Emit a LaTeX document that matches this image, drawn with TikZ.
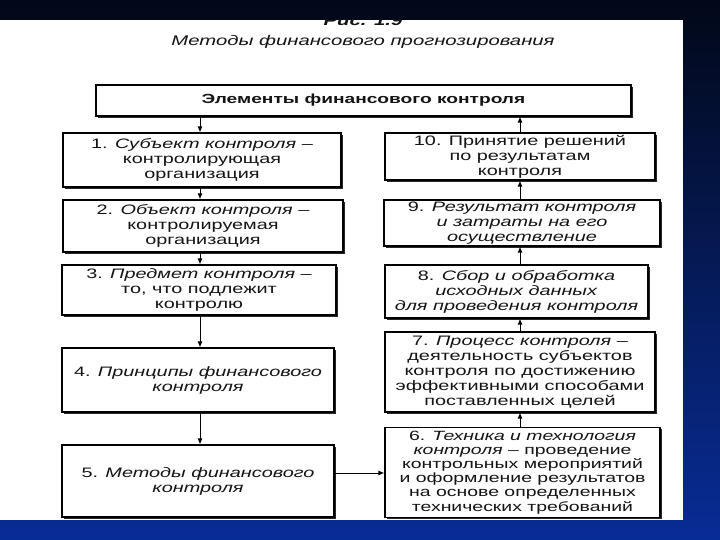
\documentclass[tikz,border=0pt]{standalone}
\usepackage{fontspec}
\setmainfont{Liberation Sans}[FakeStretch=1.45]
\usetikzlibrary{arrows.meta,shadows}
\definecolor{navytop}{RGB}{2,8,24}
\definecolor{navybot}{RGB}{8,44,150}
\definecolor{ink}{RGB}{20,20,20}
\tikzset{
  box/.style={draw=black, line width=1.1pt, fill=white, align=center, inner sep=1pt,
    text=ink, font=\fontsize{13.7}{15}\selectfont,
    drop shadow={shadow xshift=1.6pt, shadow yshift=-1.6pt, fill=black!85, opacity=1}},
  arr/.style={draw=black, line width=1pt, -{Latex[length=6pt,width=5pt]}}
}
\begin{document}
\begin{tikzpicture}[x=1pt,y=-1pt]
\useasboundingbox (0,0) rectangle (720,540);
\shade[top color=navytop, bottom color=navybot] (0,0) rectangle (720,540);
\fill[white] (0,20) rectangle (683,520);
\begin{scope}
\clip (0,20) rectangle (683,520);
\node[text=ink, font=\fontsize{14}{15}\selectfont\bfseries\itshape] (fig) at (363,21) {Рис. 1.9};
\end{scope}
\node[text=ink, font=\fontsize{14}{15}\selectfont\itshape] (ttl) at (363,42) {Методы финансового прогнозирования};

\node[box, minimum width=535pt, minimum height=31pt, font=\fontsize{13.2}{14}\selectfont\bfseries] (hdr) at (363.5,100.5) {Элементы финансового контроля};

\node[box, minimum width=278pt, minimum height=54pt] (b1) at (202,160) {1. \textit{Субъект контроля} –\\контролирующая\\организация};
\node[box, minimum width=280pt, minimum height=52pt] (b2) at (203,226) {2. \textit{Объект контроля} –\\контролируемая\\организация};
\node[box, minimum width=274pt, minimum height=50pt] (b3) at (199,290) {3. \textit{Предмет контроля} –\\то, что подлежит\\контролю};
\node[box, minimum width=272pt, minimum height=64pt] (b4) at (198,380) {4. \textit{Принципы финансового}\\\textit{контроля}};
\node[box, minimum width=272pt, minimum height=72pt] (b5) at (198,481) {5. \textit{Методы финансового}\\\textit{контроля}};

\node[box, minimum width=270pt, minimum height=47pt] (b10) at (520,156.5) {10. Принятие решений\\по результатам\\контроля};
\node[box, minimum width=276pt, minimum height=46pt] (b9) at (522,223) {9. \textit{Результат контроля}\\\textit{и затраты на его}\\\textit{осуществление}};
\node[box, minimum width=263pt, minimum height=53pt] (b8) at (516.5,291.5) {8. \textit{Сбор и обработка}\\\textit{исходных данных}\\\textit{для проведения контроля}};
\node[box, minimum width=270pt, minimum height=80pt] (b7) at (520,372) {7. \textit{Процесс контроля} –\\деятельность субъектов\\контроля по достижению\\эффективными способами\\поставленных целей};
\node[box, minimum width=275pt, minimum height=90pt, font=\fontsize{13.4}{14.1}\selectfont] (b6) at (522.5,472.5) {6. \textit{Техника и технология}\\\textit{контроля} – проведение\\контрольных мероприятий\\и оформление результатов\\на основе определенных\\технических требований};

\coordinate (lx) at (200,0);
\coordinate (rx) at (520,0);
\coordinate (hy) at (0,473);
\draw[arr] (lx |- hdr.south) -- (lx |- b1.north);
\draw[arr] (lx |- b1.south) -- (lx |- b2.north);
\draw[arr] (lx |- b2.south) -- (lx |- b3.north);
\draw[arr] (lx |- b3.south) -- (lx |- b4.north);
\draw[arr] (lx |- b4.south) -- (lx |- b5.north);
\draw[arr] (b5.east |- hy) -- (b6.west |- hy);
\draw[arr] (rx |- b6.north) -- (rx |- b7.south);
\draw[arr] (rx |- b7.north) -- (rx |- b8.south);
\draw[arr] (rx |- b8.north) -- (rx |- b9.south);
\draw[arr] (rx |- b9.north) -- (rx |- b10.south);
\draw[arr] (rx |- b10.north) -- (rx |- hdr.south);
\end{tikzpicture}
\end{document}
